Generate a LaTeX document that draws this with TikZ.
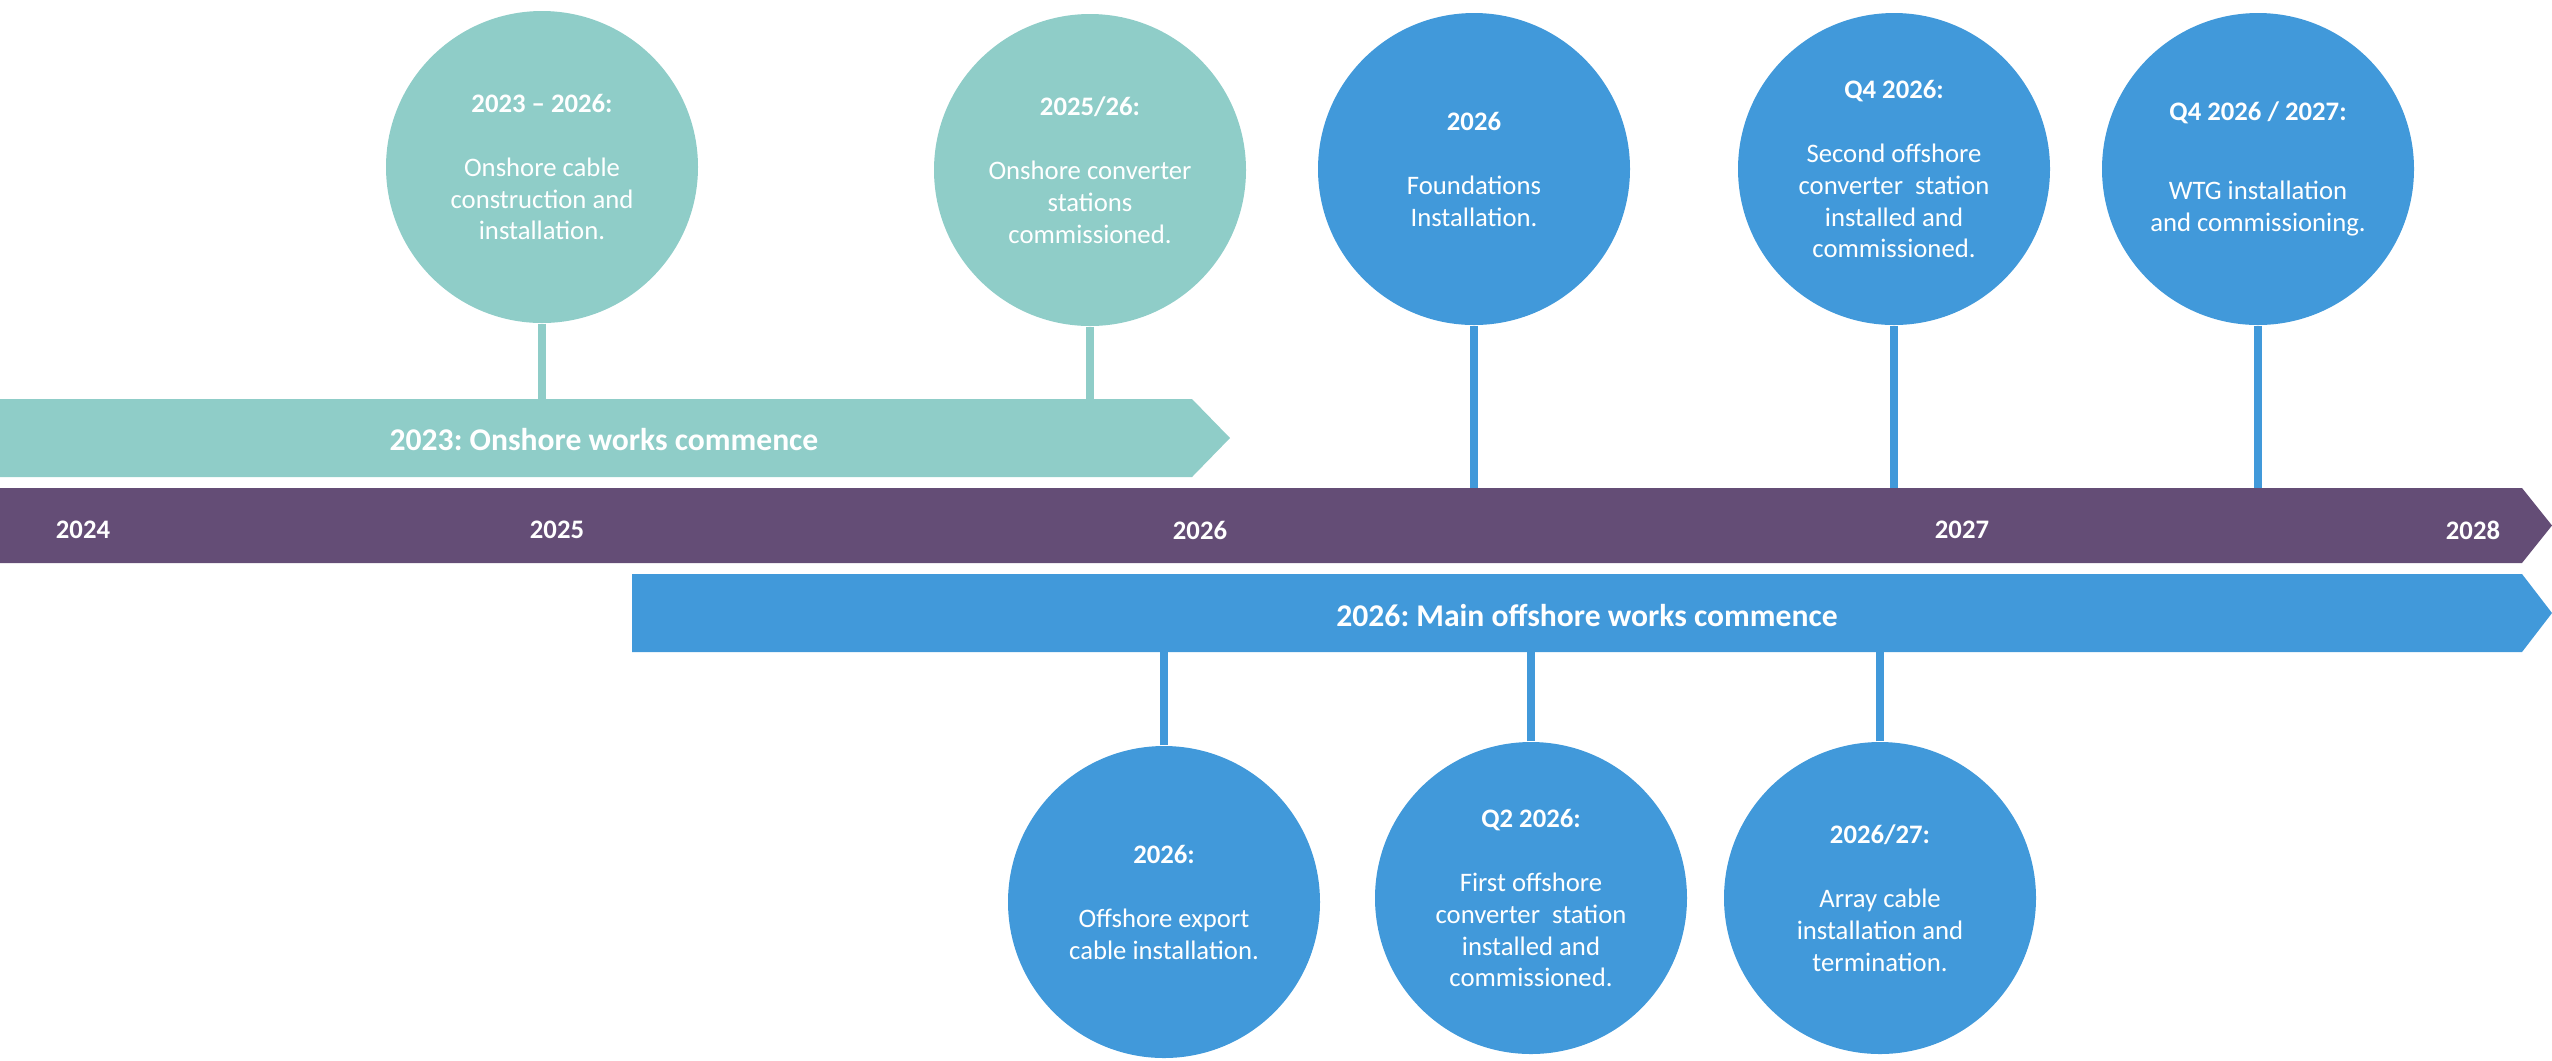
\documentclass[tikz,border=0pt]{standalone}
\usepackage{fontspec}
\setmainfont{Carlito}
\frenchspacing
\definecolor{onshore}{RGB}{143,205,200}
\definecolor{offshore}{RGB}{65,153,218}
\definecolor{yearbar}{RGB}{100,77,118}
\tikzset{
  event/.style={circle, minimum size=31.2mm, inner sep=0pt, text=white, align=center, font=\fontsize{7.6}{9.1}\selectfont},
  onevent/.style={event, fill=onshore},
  offevent/.style={event, fill=offshore},
  stem/.style={line width=0.85mm},
  year/.style={text=white, font=\fontsize{7.6}{9.1}\selectfont\bfseries},
  barlabel/.style={text=white, font=\fontsize{9}{11}\selectfont\bfseries}
}
\begin{document}
\begin{tikzpicture}[x=0.1mm,y=-0.1mm]
\useasboundingbox (0,0) rectangle (2552,1060);
% bars
\fill[onshore] (0,399) -- (1192,399) -- (1230,438) -- (1192,477) -- (0,477) -- cycle;
\fill[yearbar] (0,488) -- (2522,488) -- (2552,525.5) -- (2522,563) -- (0,563) -- cycle;
\fill[offshore] (632,574) -- (2522,574) -- (2552,613) -- (2522,652) -- (632,652) -- cycle;
\coordinate (ontop) at (0,399);
\coordinate (yeartop) at (0,488);
\coordinate (offbot) at (0,652);
\node[barlabel] (onlabel) at (604,439) {2023: Onshore works commence};
\node[barlabel] (offlabel) at (1587,615) {2026: Main offshore works commence};
% years
\node[year] (y2024) at (83,530) {2024};
\node[year] (y2025) at (557,530) {2025};
\node[year] (y2026) at (1200,530) {2026};
\node[year] (y2027) at (1962,530) {2027};
\node[year] (y2028) at (2473,530) {2028};
% events above
\node[onevent] (on1) at (542,167) {\textbf{2023 – 2026:}\\[9.1pt]Onshore cable\\construction and\\installation.};
\node[onevent] (on2) at (1090,170) {\textbf{2025/26:}\\[9.1pt]Onshore converter\\stations\\commissioned.};
\node[offevent] (up1) at (1474,169) {\textbf{2026}\\[9.1pt]Foundations\\Installation.};
\node[offevent] (up2) at (1894,169) {\textbf{Q4 2026:}\\[9.1pt]Second offshore\\converter\ \ station\\installed and\\commissioned.};
\node[offevent] (up3) at (2258,169) {\textbf{Q4 2026 / 2027:}\\[13.4pt]WTG installation\\and commissioning.};
% events below
\node[offevent] (dn1) at (1164,902) {\textbf{2026:}\\[9.1pt]Offshore export\\cable installation.};
\node[offevent] (dn2) at (1531,898) {\textbf{Q2 2026:}\\[9.1pt]First offshore\\converter\ \ station\\installed and\\commissioned.};
\node[offevent] (dn3) at (1880,898) {\textbf{2026/27:}\\[9.1pt]Array cable\\installation and\\termination.};
% stems
\draw[stem, onshore] (on1) -- (on1 |- ontop);
\draw[stem, onshore] (on2) -- (on2 |- ontop);
\draw[stem, offshore] (up1) -- (up1 |- yeartop);
\draw[stem, offshore] (up2) -- (up2 |- yeartop);
\draw[stem, offshore] (up3) -- (up3 |- yeartop);
\draw[stem, offshore] (dn1) -- (dn1 |- offbot);
\draw[stem, offshore] (dn2) -- (dn2 |- offbot);
\draw[stem, offshore] (dn3) -- (dn3 |- offbot);
\end{tikzpicture}
\end{document}
